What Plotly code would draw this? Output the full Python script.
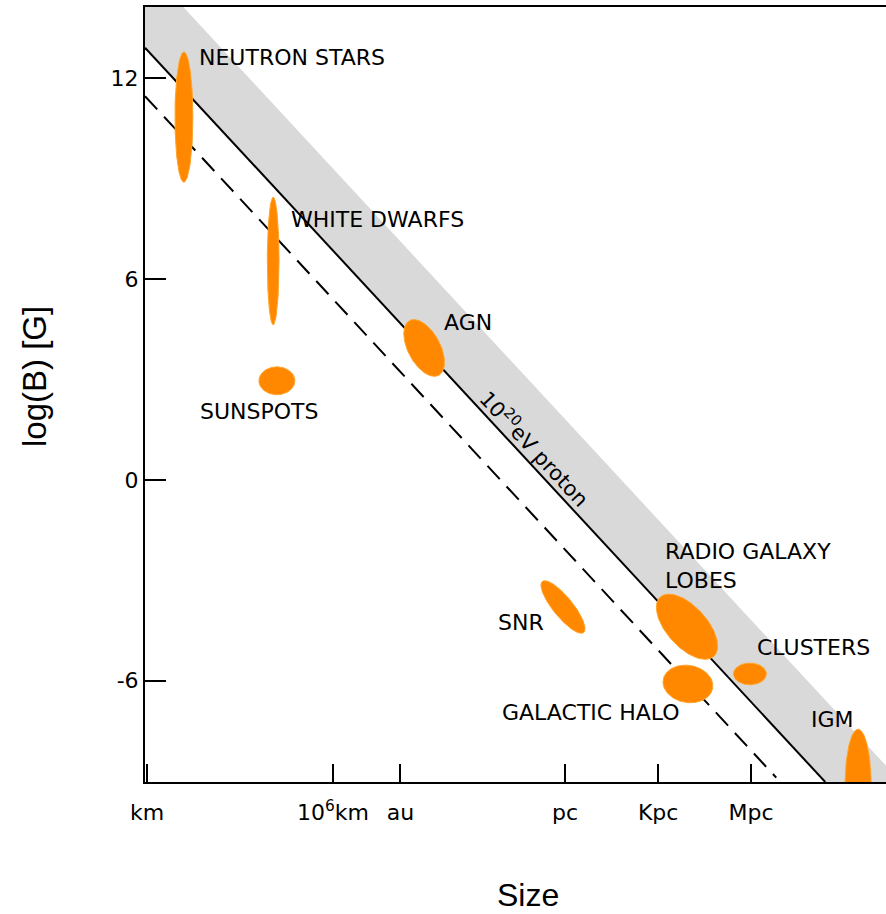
import numpy as np
import plotly.graph_objects as go

# ---------------- data ----------------
# x: log10(size / cm), y: log10(B / G)
x_tick_vals = [5.0, 11.0, 13.175, 18.489, 21.489, 24.489]
x_tick_text = ["km", "10<sup>6</sup>km", "au", "pc", "Kpc", "Mpc"]
y_tick_vals = [12, 6, 0, -6]
y_tick_text = ["12", "6", "0", "-6"]

# Hillas lines: log B = const - log R
proton_const = 17.85      # 10^20 eV proton (solid)
dashed_const = 16.40      # dashed line
band_upper_const = 20.30  # upper edge of grey band

# objects: centre logR, centre logB, semi-axis a, semi-axis b (decades), tilt (deg)
obj_names = ["NEUTRON STARS", "WHITE DWARFS", "SUNSPOTS", "AGN", "SNR",
             "RADIO GALAXY LOBES", "GALACTIC HALO", "CLUSTERS", "IGM"]
obj_logR = [6.19, 9.07, 9.19, 13.94, 18.42, 22.42, 22.45, 24.45, 27.94]
obj_logB = [10.84, 6.54, 2.96, 3.94, -3.80, -4.39, -6.10, -5.80, -9.12]
obj_a = [0.29, 0.19, 0.58, 1.00, 1.06, 1.29, 0.81, 0.53, 0.42]
obj_b = [2.10, 2.06, 0.45, 0.52, 0.32, 0.65, 0.60, 0.35, 1.80]
obj_tilt = [0, 0, 0, 62, 51, 48, 10, 0, 0]

# labels: text, logR (left edge), logB
label_text = ["NEUTRON STARS", "WHITE DWARFS", "SUNSPOTS", "AGN", "SNR",
              "RADIO GALAXY<br>LOBES", "GALACTIC HALO", "CLUSTERS", "IGM"]
label_x = [6.60, 9.57, 6.66, 14.53, 16.27, 21.63, 16.40, 24.61, 26.37]
label_y = [12.61, 7.77, 2.03, 4.69, -4.25, -2.56, -6.95, -5.02, -7.16]

X_RANGE = [4.935, 28.84]
Y_RANGE = [-9.03, 14.13]
ASPECT = 31.0 / 33.47   # screen aspect between a decade of R and a decade of B

ORANGE = "#FF8800"
EDGE = "#FFA52A"
GREY = "#D9D9D9"

fig = go.Figure()

# grey band
bx = np.array([X_RANGE[0] - 3, X_RANGE[1] + 3])
band_x = list(bx) + list(bx[::-1])
band_y = list(proton_const - bx) + list((band_upper_const - bx)[::-1])
fig.add_trace(go.Scatter(x=band_x, y=band_y, fill="toself", fillcolor=GREY,
                         line=dict(width=0), mode="lines", hoverinfo="skip"))

# solid line
lx = np.array([X_RANGE[0], proton_const - Y_RANGE[0]])
fig.add_trace(go.Scatter(x=lx, y=proton_const - lx, mode="lines",
                         line=dict(color="black", width=2)))
# dashed line
dx = np.array([X_RANGE[0], 25.3])
fig.add_trace(go.Scatter(x=dx, y=dashed_const - dx, mode="lines",
                         line=dict(color="black", width=2, dash="18px,10px")))

# ellipses
t = np.linspace(0, 2 * np.pi, 181)
for cx, cy, a, b, th in zip(obj_logR, obj_logB, obj_a, obj_b, obj_tilt):
    r = np.radians(th)
    ex = cx + a * np.cos(t) * np.cos(r) - b * np.sin(t) * np.sin(r)
    ey = cy - (a * np.cos(t) * np.sin(r) + b * np.sin(t) * np.cos(r)) * ASPECT
    fig.add_trace(go.Scatter(x=ex, y=ey, fill="toself", fillcolor=ORANGE,
                             mode="lines", line=dict(color=EDGE, width=1),
                             hoverinfo="skip"))

LABEL_FONT = dict(family="DejaVu Sans", size=22, color="black")
for txt, x, y in zip(label_text, label_x, label_y):
    fig.add_annotation(x=x, y=y, text=txt, showarrow=False, xanchor="left",
                       yanchor="middle", align="left", font=LABEL_FONT)

# rotated line label
fig.add_annotation(x=17.52, y=0.95, text="10<sup>20</sup>eV proton", showarrow=False,
                   textangle=47, xanchor="center", yanchor="middle",
                   font=dict(family="DejaVu Sans", size=21, color="black"))

# axis titles
fig.add_annotation(xref="paper", yref="paper", x=(528 - 145) / 741, y=(782 - 895) / 775,
                   text="Size", showarrow=False, xanchor="center", yanchor="middle",
                   font=dict(family="Liberation Sans", size=32, color="black"))
fig.add_annotation(xref="paper", yref="paper", x=(35 - 145) / 741, y=(782 - 376) / 775,
                   text="log(B) [G]", showarrow=False, textangle=-90,
                   xanchor="center", yanchor="middle",
                   font=dict(family="Liberation Sans", size=33, color="black"))

fig.update_layout(
    width=886, height=914,
    margin=dict(l=145, r=0, t=7, b=132),
    paper_bgcolor="white", plot_bgcolor="white",
    showlegend=False,
    xaxis=dict(range=X_RANGE, tickvals=x_tick_vals, ticktext=x_tick_text,
               ticks="inside", ticklen=18, tickwidth=2, tickcolor="black",
               showline=True, linewidth=2, linecolor="black", mirror=True,
               showgrid=False, zeroline=False, ticklabelstandoff=10,
               tickfont=dict(family="DejaVu Sans", size=22, color="black")),
    yaxis=dict(range=Y_RANGE, tickvals=y_tick_vals, ticktext=y_tick_text,
               ticks="inside", ticklen=21, tickwidth=2, tickcolor="black",
               showline=True, linewidth=2, linecolor="black",
               showgrid=False, zeroline=False,
               tickfont=dict(family="DejaVu Sans", size=22, color="black")),
)

fig.write_html("out.html")
